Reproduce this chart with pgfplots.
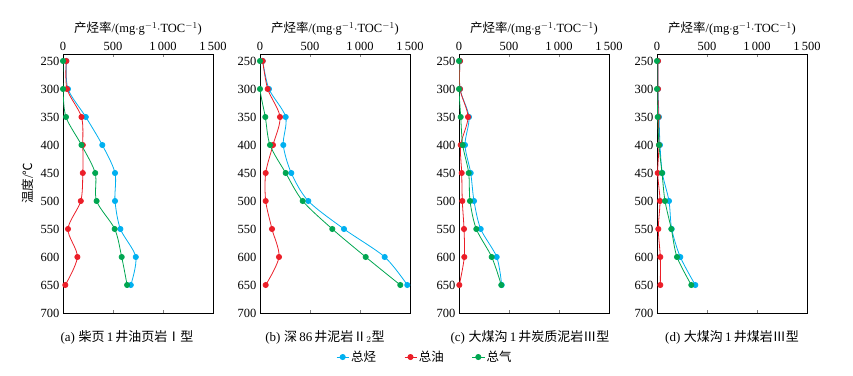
\documentclass[border=0pt]{standalone}
\usepackage{pgfplots}
\pgfplotsset{compat=1.18}
\usepackage{pgfplotstable}
\usepackage{fontspec}
\setmainfont{Liberation Serif}
\newfontfamily\cjk{Noto Sans CJK SC}
\definecolor{cBlue}{RGB}{0,176,240}
\definecolor{cRed}{RGB}{235,30,40}
\definecolor{cGreen}{RGB}{0,166,81}

\pgfplotstableread{
T tot oil gas
250 33 33 0
300 50 40 0
350 228 185 30
400 393 198 185
450 520 198 322
500 520 178 336
550 574 50 517
600 728 144 587
650 678 23 641
}\dataA
\pgfplotstableread{
T tot oil gas
250 27 27 0
300 90 77 0
350 257 200 53
400 233 130 100
450 313 57 257
500 483 57 427
550 840 120 723
600 1247 190 1057
650 1473 57 1403
}\dataB
\pgfplotstableread{
T tot oil gas
250 10 10 0
300 10 10 0
350 100 90 17
400 60 17 37
450 117 27 97
500 150 33 110
550 217 50 173
600 377 53 327
650 427 3 423
}\dataC
\pgfplotstableread{
T tot oil gas
250 10 10 0
300 10 10 0
350 20 13 7
400 30 20 20
450 53 7 50
500 120 30 80
550 147 13 143
600 233 33 200
650 383 33 343
}\dataD

\pgfplotsset{
  panel/.style={
    scale only axis, width=150pt, height=259pt,
    anchor=north west,
    xmin=0, xmax=1500, ymin=237.5, ymax=700,
    y dir=reverse,
    xtick={0,500,1000,1500},
    xticklabels={0,500,1\,000,1\,500},
    ytick={250,300,...,700},
    xticklabel pos=right,
    xlabel near ticks,
    xlabel={{\cjk 产烃率}/(mg$\cdot$g$^{-1}\cdot$TOC$^{-1}$)},
    /pgf/number format/assume math mode=true,
    tick label style={font=\fontsize{12.5}{14}\selectfont},
    label style={font=\fontsize{12.5}{14}\selectfont},
    xtick align=inside,
    ytick style={draw=none},
    major tick length=3pt,
    axis line style={line width=0.8pt},
    every axis plot/.append style={line width=0.8pt, mark=*, mark size=2.6pt, smooth},
  },
}

\begin{document}
\begin{tikzpicture}
\useasboundingbox (0pt,0pt) rectangle (853pt,375pt);

\begin{axis}[panel, at={(63pt,321pt)}, ylabel={{\cjk 温度}/{\cjk ℃}}]
\addplot[color=cBlue] table[x=tot,y=T]{\dataA};
\addplot[color=cRed] table[x=oil,y=T]{\dataA};
\addplot[color=cGreen] table[x=gas,y=T]{\dataA};
\end{axis}

\begin{axis}[panel, at={(260pt,321pt)},
  legend columns=3,
  legend style={at={(1.1,-0.17)}, anchor=center, draw=none, font=\fontsize{12.5}{14}\selectfont\cjk,
    /tikz/every even column/.append style={column sep=26pt}},
  legend image code/.code={\draw[#1, mark repeat=2, mark phase=2] plot coordinates {(0pt,0pt) (6pt,0pt) (12pt,0pt)};}]
\addplot[color=cBlue] table[x=tot,y=T]{\dataB};
\addplot[color=cRed] table[x=oil,y=T]{\dataB};
\addplot[color=cGreen] table[x=gas,y=T]{\dataB};
\legend{总烃,总油,总气}
\end{axis}

\begin{axis}[panel, at={(459pt,321pt)}]
\addplot[color=cBlue] table[x=tot,y=T]{\dataC};
\addplot[color=cRed] table[x=oil,y=T]{\dataC};
\addplot[color=cGreen] table[x=gas,y=T]{\dataC};
\end{axis}

\begin{axis}[panel, at={(657pt,321pt)}]
\addplot[color=cBlue] table[x=tot,y=T]{\dataD};
\addplot[color=cRed] table[x=oil,y=T]{\dataD};
\addplot[color=cGreen] table[x=gas,y=T]{\dataD};
\end{axis}

\begin{scope}[every node/.style={font=\fontsize{13}{15}\selectfont}]
\node at (127pt,38pt) {(a)\;{\cjk 柴页}\,1\,{\cjk 井油页岩Ⅰ型}};
\node at (325pt,38pt) {(b)\;{\cjk 深}\,86\,{\cjk 井泥岩Ⅱ}$_2${\cjk 型}};
\node at (530pt,38pt) {(c)\;{\cjk 大煤沟}\,1\,{\cjk 井炭质泥岩Ⅲ型}};
\node at (732pt,38pt) {(d)\;{\cjk 大煤沟}\,1\,{\cjk 井煤岩Ⅲ型}};
\end{scope}
\end{tikzpicture}
\end{document}
